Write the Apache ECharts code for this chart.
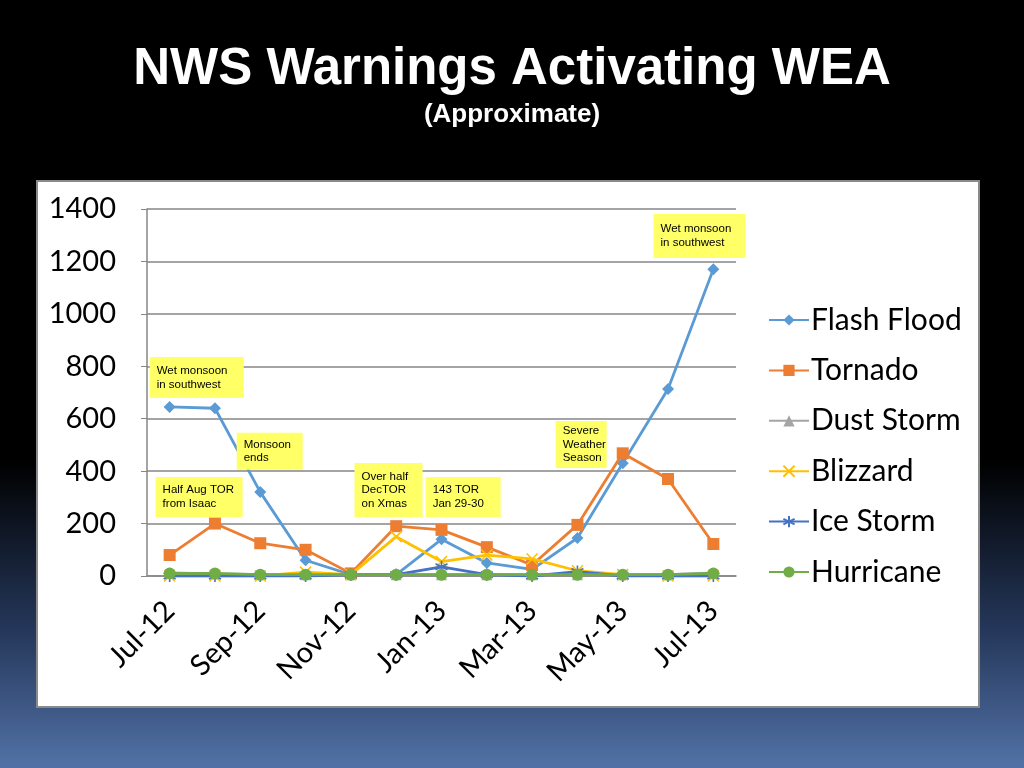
<!DOCTYPE html>
<html>
<head>
<meta charset="utf-8">
<script src="https://cdn.jsdelivr.net/npm/echarts@6/dist/echarts.min.js"></script>
<style>html,body{margin:0;padding:0;background:#000;}#c{width:1024px;height:768px;}</style>
</head>
<body>
<div id="c"></div>
<script>
var months = ['Jul-12','Aug-12','Sep-12','Oct-12','Nov-12','Dec-12','Jan-13','Feb-13','Mar-13','Apr-13','May-13','Jun-13','Jul-13'];
var flashFlood = [645, 640, 320, 60, 5, 5, 140, 50, 25, 145, 430, 713, 1170];
var tornado    = [80, 200, 125, 100, 10, 190, 176, 110, 42, 195, 468, 370, 122];
var dustStorm  = [12, 8, 5, 5, 5, 5, 5, 5, 5, 5, 5, 5, 12];
var blizzard   = [0, 0, 0, 15, 5, 150, 55, 80, 65, 20, 5, 0, 0];
var iceStorm   = [0, 0, 0, 0, 5, 5, 35, 5, 0, 17, 0, 0, 0];
var hurricane  = [10, 10, 5, 5, 5, 5, 5, 5, 5, 5, 5, 5, 10];
var seriesNames = ['Flash Flood','Tornado','Dust Storm','Blizzard','Ice Storm','Hurricane'];
var yTicks = [0, 200, 400, 600, 800, 1000, 1200, 1400];
// annotation anchors: [category index (fractional), value at top-left], text
var notes = [
  {at:[-0.44, 835], w:94, h:41, text:'Wet monsoon\nin southwest'},
  {at:[-0.31, 378], w:87, h:40, text:'Half Aug TOR\nfrom Isaac'},
  {at:[1.48, 546], w:66, h:37, text:'Monsoon\nends'},
  {at:[4.08, 431], w:68, h:54, text:'Over half\nDecTOR\non Xmas'},
  {at:[5.65, 378], w:75, h:40, text:'143 TOR\nJan 29-30'},
  {at:[8.52, 591], w:51, h:47, text:'Severe\nWeather\nSeason'},
  {at:[10.68, 1381], w:92, h:44, text:'Wet monsoon\nin southwest'}
];

var colors = ['#5B9BD5','#ED7D31','#A5A5A5','#FFC000','#4472C4','#70AD47'];
var crossPath = 'path://M0,0L10,10M10,0L0,10';
var starPath = 'path://M5,0L5,10M0.7,2.5L9.3,7.5M9.3,2.5L0.7,7.5';
var symbols = ['diamond','rect','triangle',crossPath,starPath,'circle'];
var sizes = [12, 12, 11, 11, 12, 12];
var dataSets = [flashFlood, tornado, dustStorm, blizzard, iceStorm, hurricane];

var chart = echarts.init(document.getElementById('c'));
var series = seriesNames.map(function(n, i){
  var stroked = (i === 3 || i === 4);
  return {
    name: n, type: 'line', data: dataSets[i],
    symbol: symbols[i], symbolSize: sizes[i], showSymbol: true,
    lineStyle: {color: colors[i], width: 2.8},
    itemStyle: {color: colors[i], borderColor: colors[i], borderWidth: stroked ? 1.6 : 0},
    emphasis: {disabled: true},
    z: 2 + i
  };
});

var baseGraphics = [
  {id:'bg', type:'rect', z:-20, silent:true, shape:{x:0,y:0,width:1024,height:768},
   style:{fill:new echarts.graphic.LinearGradient(0,0,0,1,[
     {offset:0,color:'#000000'},{offset:0.6,color:'#000000'},
     {offset:0.82,color:'#25375a'},{offset:1,color:'#5272a6'}])}},
  {id:'box', type:'rect', z:-19, silent:true, shape:{x:37,y:181,width:942,height:526},
   style:{fill:'#ffffff', stroke:'#8a8a8a', lineWidth:2}}
];

chart.setOption({
  animation: false,
  color: colors,
  title: [
    {text:'NWS Warnings Activating WEA', left:'center', top:39,
     textStyle:{color:'#fff', fontFamily:'Liberation Sans, Arial', fontWeight:'bold', fontSize:51}},
    {text:'(Approximate)', left:'center', top:97,
     textStyle:{color:'#fff', fontFamily:'Liberation Sans, Arial', fontWeight:'bold', fontSize:26}}
  ],
  grid: {left:147, right:288, top:209, bottom:192, containLabel:false},
  legend: {
    orient:'vertical', left:763, top:300, itemWidth:40, itemHeight:14, itemGap:20.4,
    data: seriesNames,
    textStyle:{color:'#000', fontFamily:'Lato', fontSize:30, lineHeight:30, padding:[0,0,0,-3]}
  },
  xAxis: {
    type:'category', data: months, boundaryGap:true,
    axisLine:{lineStyle:{color:'#868686', width:1.5}},
    axisTick:{interval:1, length:6, lineStyle:{color:'#868686'}},
    axisLabel:{interval:1, rotate:45, margin:30, color:'#000', fontFamily:'Lato', fontSize:29}
  },
  yAxis: {
    type:'value', min:yTicks[0], max:yTicks[yTicks.length-1], interval:200,
    axisLine:{show:true, lineStyle:{color:'#868686', width:1.5}},
    axisTick:{show:true, length:6, lineStyle:{color:'#868686'}},
    splitLine:{lineStyle:{color:'#868686', width:1.5}},
    axisLabel:{margin:31, color:'#000', fontFamily:'Lato', fontSize:29,
      formatter:function(v){ return String(v); }}
  },
  graphic: baseGraphics,
  series: series
});

function toPx(at){
  var i0 = Math.floor(at[0]);
  var p0 = chart.convertToPixel({gridIndex:0}, [i0, at[1]]);
  var p1 = chart.convertToPixel({gridIndex:0}, [i0 + 1, at[1]]);
  var f = at[0] - i0;
  return [p0[0] + (p1[0]-p0[0])*f, p0[1]];
}
var noteGraphics = [];
notes.forEach(function(n, k){
  var p = toPx(n.at);
  noteGraphics.push({id:'nr'+k, type:'rect', z:50, silent:true,
    shape:{x:p[0], y:p[1], width:n.w, height:n.h}, style:{fill:'#ffff66'}});
  noteGraphics.push({id:'nt'+k, type:'text', z:51, silent:true,
    x:p[0]+7, y:p[1]+n.h/2,
    style:{text:n.text, fill:'#000', font:'11.5px "Liberation Sans", Arial', lineHeight:13.5, verticalAlign:'middle', align:'left'}});
});
chart.setOption({graphic: baseGraphics.concat(noteGraphics)});
</script>
</body>
</html>
